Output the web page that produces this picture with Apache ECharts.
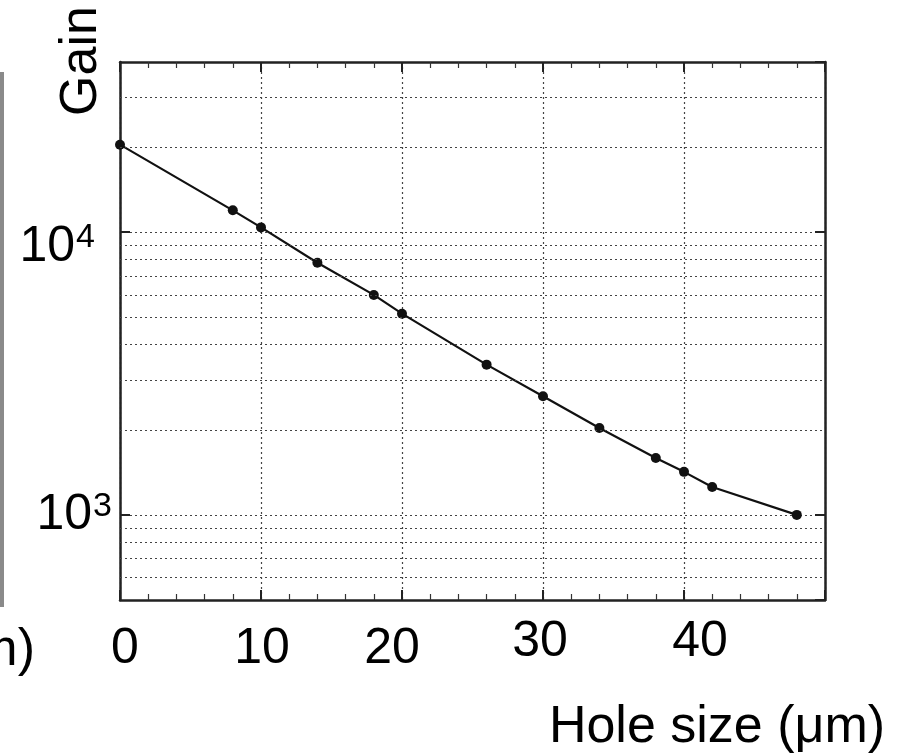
<!DOCTYPE html>
<html>
<head>
<meta charset="UTF-8">
<title>Gain vs hole size</title>
<script src="https://cdn.jsdelivr.net/npm/echarts@6/dist/echarts.min.js"></script>
<style>
  html, body { margin: 0; padding: 0; background: #fff; }
  #main { width: 899px; height: 756px; }
</style>
</head>
<body>
<div id="main"></div>
<script type="text/javascript">
    // data
    var holeSize = [0, 8, 10, 14, 18, 20, 26, 30, 34, 38, 40, 42, 48];
    var gain = [20400, 11950, 10400, 7800, 6000, 5150, 3400, 2630, 2030, 1590, 1420, 1255, 1000];
    var xTickLabels = ['0', '10', '20', '30', '40'];
    // dotted log grid lines between the decades
    var minorGrid = [600, 700, 800, 900, 2000, 3000, 4000, 5000, 6000, 7000, 8000, 9000, 20000, 30000];

    var FONT = '"Liberation Sans", Arial, sans-serif';
    var points = holeSize.map(function (x, i) { return [x, gain[i]]; });

    var myChart = echarts.init(document.getElementById('main'));

    var gridDots = { type: [2, 3], color: '#444', width: 1.2 };
    var frame = { show: true, onZero: false, lineStyle: { color: '#222', width: 2.5 } };

    var xBase = {
        type: 'value',
        min: 0,
        max: 50,
        interval: 10,
        axisLine: frame,
        axisTick: { show: true, inside: true, length: 10, lineStyle: { color: '#222', width: 2 } },
        minorTick: { show: true, splitNumber: 5, length: 6, lineStyle: { color: '#333', width: 1.2 } },
        splitLine: { show: false }
    };

    var option = {
        animation: false,
        grid: { left: 120, right: 74, top: 62, bottom: 156, show: false },
        xAxis: [
            Object.assign({}, xBase, {
                position: 'bottom',
                splitLine: { show: true, lineStyle: gridDots },
                axisLabel: {
                    show: true,
                    margin: 17,
                    color: '#000',
                    fontSize: 50,
                    fontFamily: FONT,
                    formatter: function (v) {
                        var s = String(v);
                        if (xTickLabels.indexOf(s) < 0) return '';
                        return '{l' + s + '|' + s + '}';
                    },
                    rich: {
                        l0: { fontSize: 50, fontFamily: FONT, padding: [7, 0, 0, 10] },
                        l10: { fontSize: 50, fontFamily: FONT, padding: [7, 0, 0, 2] },
                        l20: { fontSize: 50, fontFamily: FONT, padding: [7, 20, 0, 0] },
                        l30: { fontSize: 50, fontFamily: FONT, padding: [0, 6, 0, 0] },
                        l40: { fontSize: 50, fontFamily: FONT, padding: [0, 0, 0, 32] }
                    }
                }
            }),
            Object.assign({}, xBase, {
                position: 'top',
                axisLabel: { show: false }
            })
        ],
        yAxis: [
            {
                type: 'log',
                logBase: 10,
                min: 500,
                max: 40000,
                axisLine: frame,
                axisTick: { show: true, inside: true, length: 10, lineStyle: { color: '#222', width: 2 } },
                splitLine: { show: true, lineStyle: gridDots },
                axisLabel: {
                    show: true,
                    margin: 8,
                    color: '#000',
                    fontFamily: FONT,
                    fontSize: 50,
                    showMinLabel: false,
                    showMaxLabel: false,
                    formatter: function (v) {
                        var p = Math.log(v) / Math.LN10;
                        if (Math.abs(p - Math.round(p)) > 1e-6) return '';
                        p = Math.round(p);
                        if (p === 4) return '{b4|10}{s4|4}';
                        return '{b|10}{s|' + p + '}';
                    },
                    rich: {
                        b: { fontSize: 50, fontFamily: FONT, color: '#000' },
                        s: { fontSize: 34, fontFamily: FONT, color: '#000', verticalAlign: 'top', padding: [0, 0, 0, 1] },
                        b4: { fontSize: 50, fontFamily: FONT, color: '#000', padding: [30, 0, 0, 0] },
                        s4: { fontSize: 34, fontFamily: FONT, color: '#000', verticalAlign: 'top', padding: [28, 17, 0, 1] }
                    }
                }
            },
            {
                type: 'log',
                logBase: 10,
                min: 500,
                max: 40000,
                position: 'right',
                axisLine: frame,
                axisTick: { show: true, inside: true, length: 10, lineStyle: { color: '#222', width: 2 } },
                splitLine: { show: false },
                axisLabel: { show: false }
            }
        ],
        graphic: [
            {
                type: 'text',
                x: 82,
                y: 61,
                rotation: Math.PI / 2,
                style: {
                    text: 'Gain',
                    font: '52px ' + FONT,
                    fill: '#000',
                    textAlign: 'center',
                    textVerticalAlign: 'middle'
                }
            },
            {
                type: 'text',
                x: 717,
                y: 728,
                style: {
                    text: 'Hole size (μm)',
                    font: '52px ' + FONT,
                    fill: '#000',
                    textAlign: 'center',
                    textVerticalAlign: 'middle'
                }
            },
            // clipped label of the neighbouring panel
            {
                type: 'text',
                x: 35,
                y: 651,
                style: {
                    text: 'Hole size (μm)',
                    font: '52px ' + FONT,
                    fill: '#000',
                    textAlign: 'right',
                    textVerticalAlign: 'middle'
                }
            },
            {
                type: 'rect',
                shape: { x: 0, y: 72, width: 4, height: 535 },
                style: { fill: '#8a8a8a' }
            }
        ],
        series: [
            {
                name: 'Gain',
                type: 'line',
                xAxisIndex: 0,
                yAxisIndex: 0,
                data: points,
                symbol: 'circle',
                symbolSize: 10,
                itemStyle: { color: '#111' },
                lineStyle: { color: '#111', width: 2.2 },
                markLine: {
                    silent: true,
                    symbol: 'none',
                    label: { show: false },
                    lineStyle: gridDots,
                    emphasis: { disabled: true },
                    data: minorGrid.map(function (v) { return { yAxis: v }; })
                }
            }
        ]
    };

    myChart.setOption(option);
</script>
</body>
</html>
